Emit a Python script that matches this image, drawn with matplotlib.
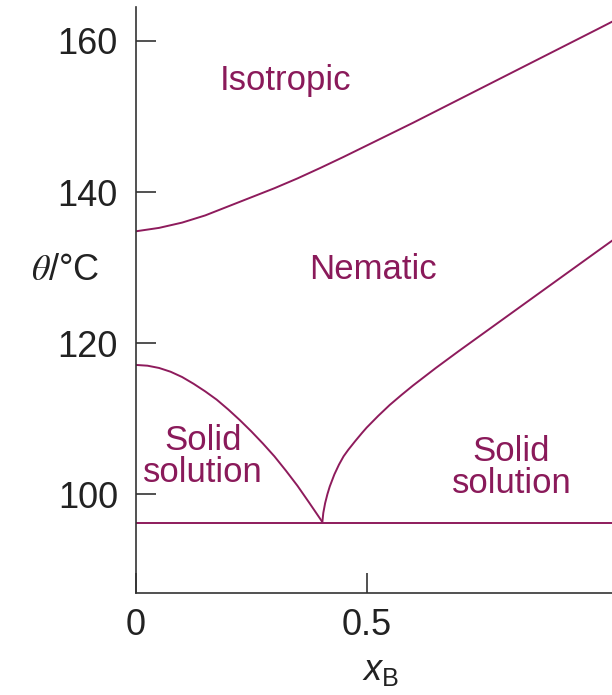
import numpy as np
import matplotlib
matplotlib.use("Agg")
import matplotlib.pyplot as plt

plt.rcParams['font.family'] = ['Liberation Sans', 'DejaVu Sans']
plt.rcParams['mathtext.fontset'] = 'custom'
plt.rcParams['mathtext.it'] = 'Liberation Sans:italic'
plt.rcParams['mathtext.rm'] = 'Liberation Sans'

# isotropic / nematic boundary
iso_x = [0.0, 0.05, 0.1, 0.15, 0.2, 0.25, 0.3, 0.35, 0.4, 0.45, 0.5,
         0.55, 0.6, 0.65, 0.7, 0.75, 0.8, 0.85, 0.9, 0.95, 1.0, 1.04]
iso_t = [134.8, 135.25, 135.95, 136.9, 138.1, 139.3, 140.5, 141.8, 143.2, 144.65, 146.15,
         147.65, 149.15, 150.7, 152.25, 153.8, 155.35, 156.9, 158.45, 160.0, 161.55, 162.8]

# solid solution (A-rich) / nematic boundary
left_x = [0.0, 0.025, 0.05, 0.075, 0.1, 0.125, 0.15, 0.175, 0.2, 0.225,
          0.25, 0.275, 0.3, 0.325, 0.35, 0.375, 0.404]
left_t = [117.1, 117.0, 116.7, 116.2, 115.5, 114.6, 113.6, 112.5, 111.2, 109.8,
          108.3, 106.7, 105.0, 103.1, 101.1, 98.9, 96.3]

# nematic / solid solution (B-rich) boundary
right_x = [0.404, 0.406, 0.41, 0.415, 0.42, 0.43, 0.44, 0.45, 0.46, 0.475, 0.49,
           0.5, 0.525, 0.55, 0.575, 0.6, 0.65, 0.7, 0.75, 0.8, 0.85, 0.9, 0.95, 1.0, 1.04]
right_t = [96.3, 97.5, 98.8, 100.0, 101.0, 102.6, 103.9, 105.0, 105.85, 107.0, 108.1,
           108.8, 110.35, 111.8, 113.1, 114.35, 116.7, 118.95, 121.15, 123.35, 125.55,
           127.75, 129.95, 132.15, 133.9]

# eutectic line
eut_x = [0.0, 1.04]
eut_t = [96.2, 96.2]

regions = ["Isotropic", "Nematic", "Solid\nsolution", "Solid\nsolution"]
region_x = [0.325, 0.514, 0.145, 0.814]
region_t = [154.8, 129.7, 105.0, 103.5]

xticks = [0, 0.5]
xtick_labels = ["0", "0.5"]
yticks = [100, 120, 140, 160]

line_col = "#8e1b5c"
text_col = "#8a1a5a"
axis_col = "#333333"

fig = plt.figure(figsize=(6.12, 6.95), dpi=100)
ax = fig.add_axes([136 / 612, 102 / 695, 1 - 136 / 612, 586 / 695])

for xs, ts in [(iso_x, iso_t), (left_x, left_t), (right_x, right_t), (eut_x, eut_t)]:
    ax.plot(xs, ts, color=line_col, lw=1.4, solid_capstyle='butt', solid_joinstyle='round')

for label, x, t in zip(regions, region_x, region_t):
    ax.text(x, t, label, color=text_col, fontsize=25, ha='center', va='center',
            linespacing=0.95)

ax.set_xlim(0, 476 / 461.3)
ax.set_ylim(86.9, 164.5)
ax.set_xticks(xticks)
ax.set_xticklabels(xtick_labels)
ax.set_yticks(yticks)

for side in ['top', 'right']:
    ax.spines[side].set_visible(False)
for side in ['left', 'bottom']:
    ax.spines[side].set_color(axis_col)
    ax.spines[side].set_linewidth(1.2)

ax.tick_params(axis='both', direction='in', length=14.5, width=1.2, color=axis_col,
               labelsize=26, labelcolor='#222222')
ax.tick_params(axis='y', pad=13)
ax.tick_params(axis='x', pad=11)

fig.text(65 / 612, 1 - 270 / 695, r"$\theta$/°C", fontsize=26, ha='center', va='center',
         color='#222222', math_fontfamily='stix')
fig.text(380 / 612, 1 - 670 / 695, r"$x_\mathrm{B}$", fontsize=26, ha='center', va='center',
         color='#222222')

fig.savefig("out.png", dpi=100)
